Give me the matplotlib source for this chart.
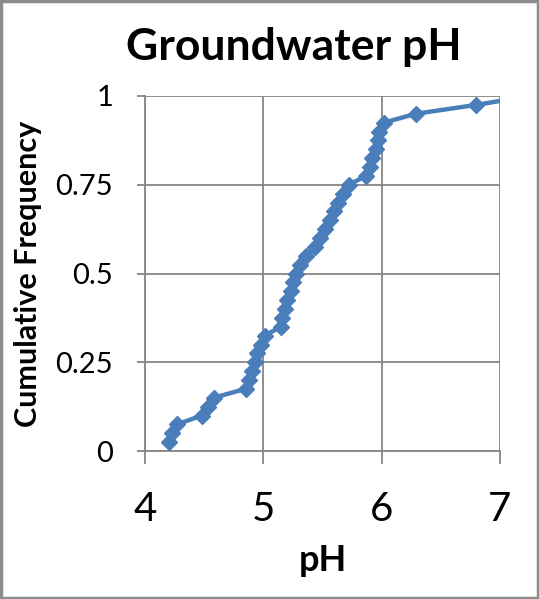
import matplotlib
matplotlib.use("Agg")
import matplotlib.pyplot as plt
from matplotlib.patches import Rectangle

ph = [4.20, 4.23, 4.27, 4.48, 4.53, 4.58, 4.85, 4.88, 4.90, 4.93,
      4.95, 4.98, 5.01, 5.15, 5.16, 5.18, 5.20, 5.23, 5.25, 5.28,
      5.31, 5.36, 5.44, 5.48, 5.52, 5.56, 5.60, 5.63, 5.67, 5.72,
      5.87, 5.90, 5.92, 5.95, 5.97, 5.98, 6.02, 6.29, 6.80, 7.25]
cum_freq = [(i + 1) / 40 for i in range(40)]

x_ticks = [4, 5, 6, 7]
y_ticks = [0, 0.25, 0.5, 0.75, 1]
y_tick_labels = ["0", "0.25", "0.5", "0.75", "1"]

plt.rcParams['font.family'] = ['Lato', 'DejaVu Sans']

fig = plt.figure(figsize=(5.39, 5.99), dpi=100)
ax = fig.add_axes([145/539, 1-451/599, 355/539, 355/599])

grid_c = "#868686"
ax.plot(ph, cum_freq, color="#4A7EBB", lw=3.2, marker="D", ms=8,
        mec="#4A7EBB", mfc="#4A7EBB", clip_on=True, zorder=3)

ax.set_xlim(4, 7)
ax.set_ylim(0, 1)
ax.set_xticks(x_ticks)
ax.set_yticks(y_ticks)
ax.set_yticklabels(y_tick_labels)
ax.grid(True, color=grid_c, lw=1.3)
for s in ["top", "right"]:
    ax.spines[s].set_visible(False)
for s in ["left", "bottom"]:
    ax.spines[s].set_color(grid_c)
    ax.spines[s].set_linewidth(1.3)
ax.tick_params(axis="x", length=9, width=1.3, color=grid_c, labelsize=29, pad=20)
ax.tick_params(axis="y", length=6, width=1.3, color=grid_c, labelsize=21, pad=17)

ax.set_xlabel("pH", fontsize=26, fontweight="bold", labelpad=11)
ax.set_ylabel("Cumulative Frequency", fontsize=22, fontweight="bold", labelpad=10)
fig.text(0.545, 1 - 60/599, "Groundwater pH", fontsize=32, fontweight="bold",
         ha="center", va="baseline")

fig.patches.append(Rectangle((0.002, 0.002), 0.996, 0.996, transform=fig.transFigure,
                             fill=False, ec="#8c8c8c", lw=2.5))

fig.savefig("out.png", dpi=100)
